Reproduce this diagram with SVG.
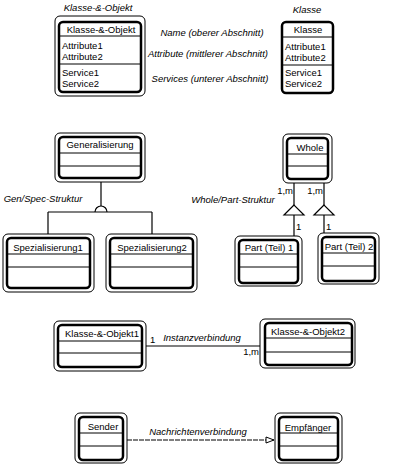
<svg xmlns="http://www.w3.org/2000/svg" width="402" height="470" viewBox="0 0 402 470">
<style>
text{font-family:"Liberation Sans",Arial,sans-serif;font-size:9.5px;fill:#000}
.c{text-anchor:middle}
.e{text-anchor:end}
.i{font-style:italic}
.outer{fill:#fff;stroke:#000;stroke-width:1}
.inner{fill:#fff;stroke:#000;stroke-width:2.5}
.sep{stroke:#000;stroke-width:1}
.ln{stroke:#000;stroke-width:1.2;fill:none}
</style>
<defs>
<marker id="arr" markerWidth="10" markerHeight="8" refX="9" refY="4" orient="auto" markerUnits="userSpaceOnUse">
<path d="M1,1 L9,4 L1,7 Z" fill="#fff" stroke="#000" stroke-width="1"/>
</marker>
</defs>
<rect width="402" height="470" fill="#fff"/>

<g id="connectors">
<line class="ln" x1="101" y1="182" x2="101" y2="206" stroke-width="2"/>
<path class="ln" d="M95,212 A6,6 0 0 1 107,212"/>
<line class="ln" x1="48" y1="212" x2="152" y2="212"/>
<line class="ln" x1="48" y1="212" x2="48" y2="237"/>
<line class="ln" x1="152" y1="212" x2="152" y2="237" stroke-width="2"/>
<line class="ln" x1="294" y1="183" x2="294" y2="205"/>
<path class="ln" d="M294,205 L284,215 L304,215 Z" stroke-width="1.5"/>
<line class="ln" x1="294" y1="215" x2="294" y2="236"/>
<line class="ln" x1="324" y1="183" x2="324" y2="205"/>
<path class="ln" d="M324,205 L314,215 L334,215 Z" stroke-width="1.5"/>
<line class="ln" x1="324" y1="215" x2="324" y2="233"/>
<line class="ln" x1="146" y1="346" x2="260" y2="346" stroke-width="1.5"/>
<line class="ln" x1="127" y1="440" x2="274" y2="440" stroke-dasharray="5,1" marker-end="url(#arr)"/>
<text class="e" x="293" y="194">1,m</text>
<text class="e" x="323" y="194">1,m</text>
<text x="296" y="230">1</text>
<text x="326" y="230">1</text>
<text x="150" y="343">1</text>
<text class="e" x="259" y="355">1,m</text>
<text class="c i" x="43" y="202">Gen/Spec-Struktur</text>
<text class="c i" x="233" y="203">Whole/Part-Struktur</text>
<text class="c i" x="202" y="341">Instanzverbindung</text>
<text class="c i" x="198" y="435">Nachrichtenverbindung</text>
</g>

<g id="legend">
<text class="c i" x="98" y="11">Klasse-&amp;-Objekt</text>
<text class="c i" x="307" y="13">Klasse</text>
<text class="c i" x="212" y="36">Name (oberer Abschnitt)</text>
<text class="c i" x="208" y="57">Attribute (mittlerer Abschnitt)</text>
<text class="c i" x="210" y="82">Services (unterer Abschnitt)</text>
</g>

<g id="klasse-objekt">
<rect class="outer" x="55" y="16" width="90" height="80" rx="5"/>
<rect class="inner" x="59" y="22" width="82" height="70" rx="4"/>
<line class="sep" x1="59" y1="36" x2="141" y2="36"/>
<line class="sep" x1="59" y1="64" x2="141" y2="64"/>
<text class="c" x="101" y="33">Klasse-&amp;-Objekt</text>
<text x="62" y="49">Attribute1</text>
<text x="62" y="60">Attribute2</text>
<text x="62" y="76">Service1</text>
<text x="62" y="87">Service2</text>
</g>

<g id="klasse">
<rect class="inner" x="282" y="22" width="51" height="71" rx="4"/>
<line class="sep" x1="282" y1="37" x2="333" y2="37"/>
<line class="sep" x1="282" y1="65" x2="333" y2="65"/>
<text class="c" x="308" y="33">Klasse</text>
<text x="285" y="50">Attribute1</text>
<text x="285" y="61">Attribute2</text>
<text x="285" y="76">Service1</text>
<text x="285" y="87">Service2</text>
</g>

<g id="generalisierung">
<rect class="outer" x="55" y="133" width="90" height="49" rx="5"/>
<rect class="inner" x="59" y="137" width="82" height="41" rx="4"/>
<line class="sep" x1="59" y1="153" x2="141" y2="153"/>
<line class="sep" x1="59" y1="166" x2="141" y2="166"/>
<text class="c" x="100" y="148">Generalisierung</text>
</g>

<g id="spezialisierung1">
<rect class="outer" x="3" y="234" width="91" height="58" rx="5"/>
<rect class="inner" x="7" y="238" width="83" height="50" rx="4"/>
<line class="sep" x1="7" y1="254" x2="90" y2="254"/>
<line class="sep" x1="7" y1="267" x2="90" y2="267"/>
<text class="c" x="48" y="251">Spezialisierung1</text>
</g>

<g id="spezialisierung2">
<rect class="outer" x="106" y="234" width="91" height="58" rx="5"/>
<rect class="inner" x="110" y="238" width="83" height="50" rx="4"/>
<line class="sep" x1="110" y1="254" x2="193" y2="254"/>
<line class="sep" x1="110" y1="267" x2="193" y2="267"/>
<text class="c" x="152" y="251">Spezialisierung2</text>
</g>

<g id="whole">
<rect class="outer" x="283" y="134" width="49" height="49" rx="5"/>
<rect class="inner" x="287" y="138" width="41" height="41" rx="4"/>
<line class="sep" x1="287" y1="154" x2="328" y2="154"/>
<line class="sep" x1="287" y1="166" x2="328" y2="166"/>
<text class="c" x="310" y="151">Whole</text>
</g>

<g id="part1">
<rect class="outer" x="235" y="236" width="67" height="50" rx="5"/>
<rect class="inner" x="239" y="240" width="59" height="43" rx="4"/>
<line class="sep" x1="239" y1="254" x2="298" y2="254"/>
<line class="sep" x1="239" y1="267" x2="298" y2="267"/>
<text class="c" x="269" y="251">Part (Teil) 1</text>
</g>

<g id="part2">
<rect class="outer" x="318" y="233" width="61" height="51" rx="5"/>
<rect class="inner" x="322" y="237" width="53" height="44" rx="4"/>
<line class="sep" x1="322" y1="253" x2="375" y2="253"/>
<line class="sep" x1="322" y1="266" x2="375" y2="266"/>
<text class="c" x="349" y="250">Part (Teil) 2</text>
</g>

<g id="klasse-objekt1">
<rect class="outer" x="54" y="321" width="92" height="50" rx="5"/>
<rect class="inner" x="58" y="325" width="84" height="42" rx="4"/>
<line class="sep" x1="58" y1="341" x2="142" y2="341"/>
<line class="sep" x1="58" y1="353" x2="142" y2="353"/>
<text class="c" x="102" y="337">Klasse-&amp;-Objekt1</text>
</g>

<g id="klasse-objekt2">
<rect class="outer" x="260" y="319" width="95" height="49" rx="5"/>
<rect class="inner" x="265" y="323" width="87" height="42" rx="4"/>
<line class="sep" x1="265" y1="338" x2="352" y2="338"/>
<line class="sep" x1="265" y1="352" x2="352" y2="352"/>
<text class="c" x="308" y="335">Klasse-&amp;-Objekt2</text>
</g>

<g id="sender">
<rect class="outer" x="75" y="413" width="52" height="50" rx="5"/>
<rect class="inner" x="79" y="417" width="44" height="43" rx="4"/>
<line class="sep" x1="79" y1="433" x2="123" y2="433"/>
<line class="sep" x1="79" y1="446" x2="123" y2="446"/>
<text class="c" x="103" y="430">Sender</text>
</g>

<g id="empfaenger">
<rect class="outer" x="275" y="413" width="67" height="50" rx="5"/>
<rect class="inner" x="279" y="417" width="59" height="43" rx="4"/>
<line class="sep" x1="279" y1="433" x2="338" y2="433"/>
<line class="sep" x1="279" y1="446" x2="338" y2="446"/>
<text class="c" x="308" y="431">Empfänger</text>
</g>
</svg>
